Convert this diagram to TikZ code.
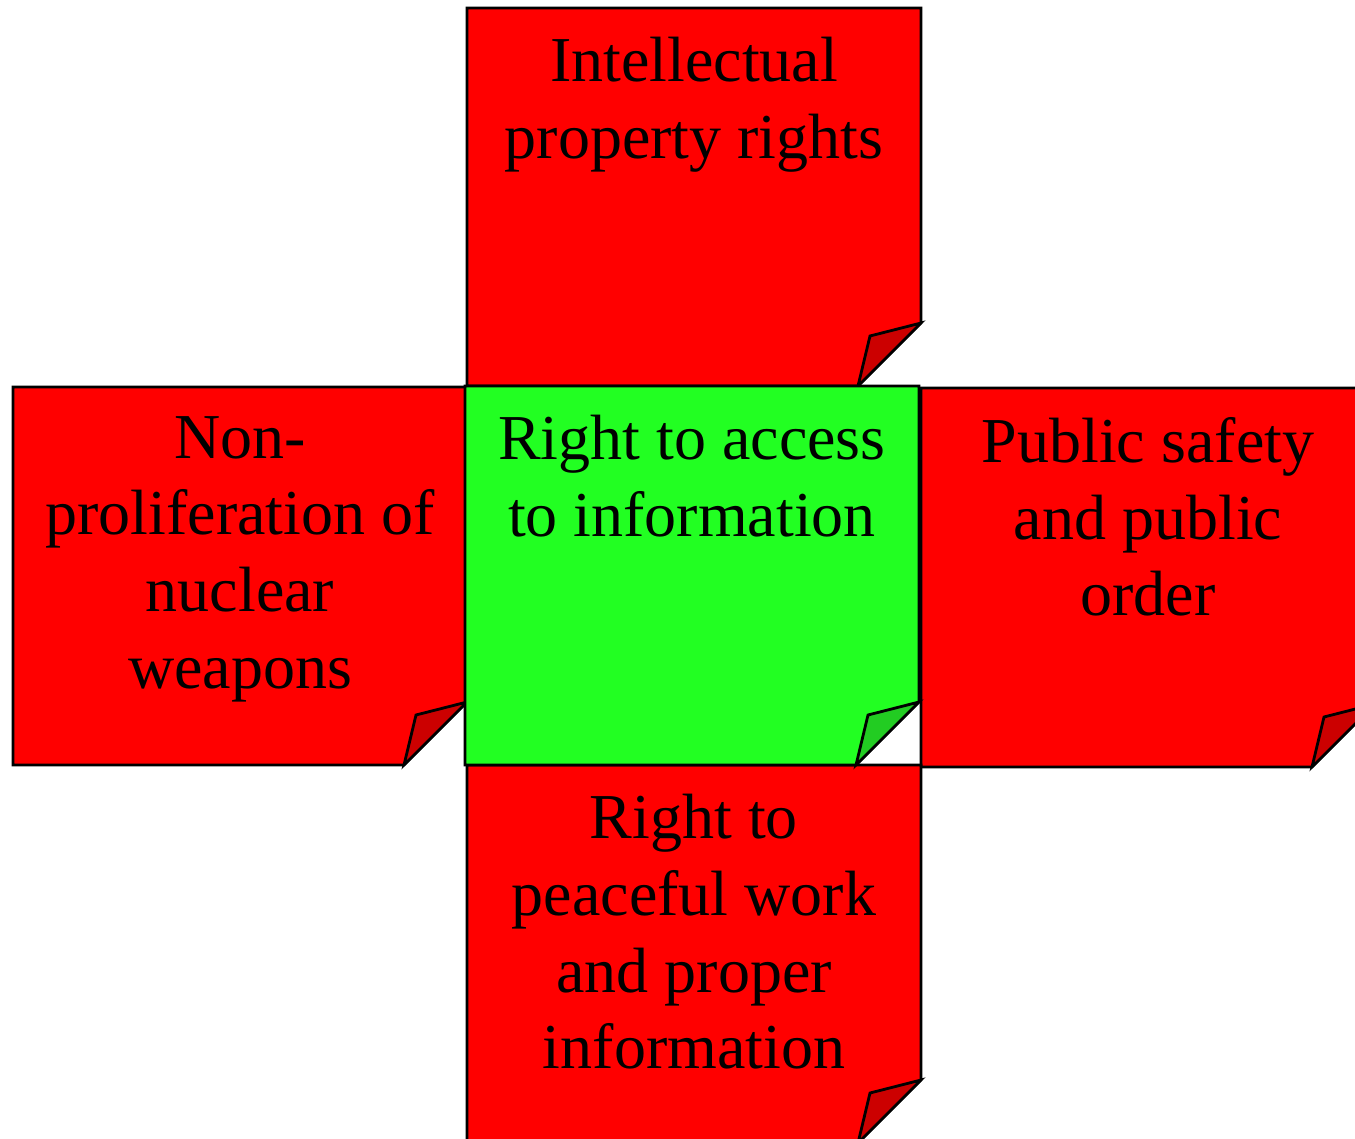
\documentclass[tikz,border=0pt]{standalone}
\usepackage{fontspec}
\setmainfont{Liberation Serif}
\definecolor{notered}{RGB}{255,0,0}
\definecolor{notereddark}{RGB}{204,0,0}
\definecolor{notegreen}{RGB}{34,255,34}
\definecolor{notegreendark}{RGB}{34,204,34}
\tikzset{
  noteedge/.style={draw=black, line width=1.4pt, line join=miter},
  notetext/.style={anchor=north, inner sep=0pt, align=center,
    font=\fontsize{32}{38.3}\selectfont, text=black}
}
% #1 name, #2 x0, #3 y0, #4 x1, #5 y1, #6 fill, #7 fold fill, #8 text
\newcommand\stickynote[8]{%
  \filldraw[noteedge, fill=#6] (#2,#3) -- (#4,#3) -- (#4,#5-63) -- (#4-63,#5) -- (#2,#5) -- cycle;
  \filldraw[noteedge, fill=#7] (#4,#5-63) -- (#4-51,#5-50) -- (#4-63,#5) -- cycle;
  \node[notetext] (#1) at ({(#2+#4)/2},#3+29) {#8};
}
\begin{document}
\begin{tikzpicture}[x=0.5pt,y=-0.5pt]
\useasboundingbox (0,0) rectangle (1355,1139);
\clip (0,0) rectangle (1355,1139);
\stickynote{left}{13}{387}{467}{765}{notered}{notereddark}{Non-\\proliferation of\\nuclear\\weapons}
\stickynote{top}{467}{8}{921}{386}{notered}{notereddark}{Intellectual\\property rights}
\stickynote{right}{921}{388}{1375}{767}{notered}{notereddark}{Public safety\\and public\\order}
\stickynote{bottom}{467}{765}{921}{1143}{notered}{notereddark}{Right to\\peaceful work\\and proper\\information}
\stickynote{center}{465}{386}{919}{765}{notegreen}{notegreendark}{Right to access\\to information}
\end{tikzpicture}
\end{document}
